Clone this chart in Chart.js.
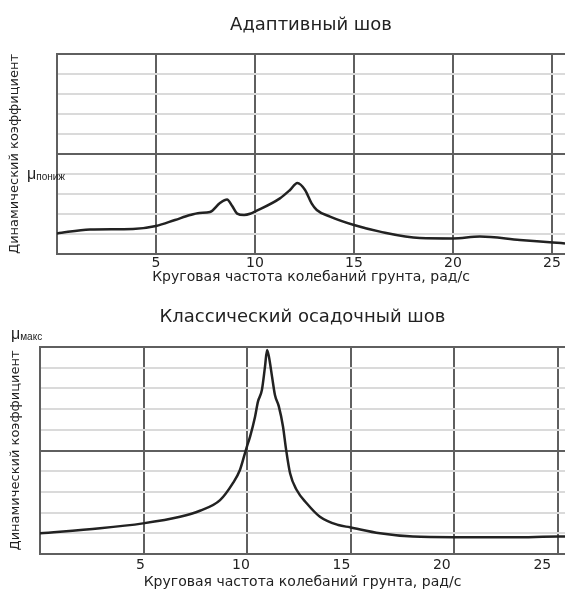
<!DOCTYPE html>
<html lang="ru">
<head>
<meta charset="utf-8">
<title>Динамический коэффициент</title>
<script src="https://cdn.jsdelivr.net/npm/chart.js@4.4.1/dist/chart.umd.min.js"></script>
<style>
  html, body { margin: 0; padding: 0; background: #fff; overflow: hidden; }
  canvas { position: absolute; left: 0; }
  #adaptChart { top: 0; }
  #classChart { top: 290px; }
</style>
</head>
<body>
<canvas id="adaptChart" width="565" height="290"></canvas>
<canvas id="classChart" width="565" height="301"></canvas>
<script>
// Адаптивный шов
const adaptX = [0, 1.67, 3.84, 5, 5.96, 6.72, 7.2, 7.73, 8.23, 8.59, 8.85, 9.1, 9.45, 9.8, 10,
  11.26, 11.77, 12.14, 12.53, 12.86, 13.12, 13.79, 15, 16.31, 18.33, 20, 21.36, 23.38, 25.05, 25.66];
const adaptY = [1.03, 1.23, 1.25, 1.4, 1.7, 1.95, 2.05, 2.1, 2.55, 2.73, 2.4, 2.02, 1.95, 2.03, 2.12,
  2.78, 3.2, 3.55, 3.2, 2.53, 2.2, 1.87, 1.45, 1.12, 0.8, 0.78, 0.87, 0.7, 0.58, 0.53];

// Классический осадочный шов
const classX = [0, 2.9, 4.97, 6.76, 7.72, 8.69, 9.31, 9.65, 9.89, 9.99, 10.14, 10.38, 10.52, 10.71,
  10.86, 10.96, 11.05, 11.2, 11.34, 11.53, 11.73, 11.87, 12.07, 12.39, 12.87, 13.51, 14.4, 14.96,
  16.41, 18.0, 19.98, 22.83, 25, 25.34];
const classY = [1.0, 1.24, 1.48, 1.8, 2.09, 2.6, 3.42, 4.06, 4.86, 5.2, 5.67, 6.63, 7.36, 7.92,
  9.05, 9.86, 9.53, 8.57, 7.68, 7.12, 6.15, 5.1, 3.9, 3.09, 2.45, 1.8, 1.4, 1.29,
  1.0, 0.84, 0.81, 0.81, 0.84, 0.84];

const xTickValues = [5, 10, 15, 20, 25];
const yMax = 10;

const FONT = "'DejaVu Sans', sans-serif";
const INK = "#222";
const DARK = "#5f5f5f";
const LIGHT = "#dadada";

function toPoints(xs, ys) {
  return xs.map((x, i) => ({ x: x, y: ys[i] }));
}

// подпись μ с индексом
function muLabel(sub, x, y) {
  return {
    id: "mu",
    afterDraw(chart) {
      const ctx = chart.ctx;
      ctx.save();
      ctx.fillStyle = INK;
      ctx.textBaseline = "middle";
      ctx.font = "16px 'Liberation Sans', sans-serif";
      ctx.fillText("μ", x, y);
      const w = ctx.measureText("μ").width;
      ctx.font = "10px 'Liberation Sans', sans-serif";
      ctx.fillText(sub, x + w, y + 2);
      ctx.restore();
    },
  };
}

function makeChart(canvasId, cfg) {
  const gridColor = (c) => (c.tick.value % 5 === 0 ? DARK : LIGHT);
  const tickFromArray = (s) => {
    s.ticks = [0, ...xTickValues].map((v) => ({ value: v }));
  };
  const xTitle = {
    display: true,
    text: "Круговая частота колебаний грунта, рад/с",
    color: INK,
    font: { family: FONT, size: 14 },
    padding: { top: 0, bottom: cfg.xTitlePad },
  };
  const xTicks = {
    color: INK,
    font: { family: FONT, size: 14 },
    padding: cfg.tickPad,
    callback: (v) => (v === 0 ? "" : v),
  };

  const scales = {
    x: {
      type: "linear",
      min: 0,
      max: cfg.xMax,
      afterBuildTicks: tickFromArray,
      grid: { color: DARK, lineWidth: 2, drawTicks: false },
      border: { display: true, color: DARK, width: 2 },
      ticks: cfg.labelMax ? { display: false } : xTicks,
      title: cfg.labelMax ? { display: false } : xTitle,
      afterFit: (s) => { s.height = cfg.labelMax ? 0 : cfg.xHeight; },
    },
    y: {
      type: "linear",
      min: 0,
      max: yMax,
      ticks: { display: false, stepSize: 1 },
      grid: { color: gridColor, lineWidth: 2, drawTicks: false },
      border: { display: true, color: DARK, width: 2 },
      title: {
        display: true,
        text: "Динамический коэффициент",
        color: INK,
        font: { family: FONT, size: 13 },
        padding: { top: cfg.yTitlePad, bottom: 0 },
      },
      afterFit: (s) => { s.width = cfg.yWidth; },
    },
  };

  // у нижнего графика подписи делений смещены относительно сетки
  if (cfg.labelMax) {
    scales.xl = {
      type: "linear",
      position: "bottom",
      weight: 1,
      min: 0,
      max: cfg.labelMax,
      afterBuildTicks: tickFromArray,
      grid: { display: false, drawTicks: false },
      border: { display: false },
      ticks: xTicks,
      title: xTitle,
      afterFit: (s) => { s.height = cfg.xHeight; },
    };
  }

  return new Chart(document.getElementById(canvasId), {
    type: "line",
    data: {
      datasets: [
        {
          data: toPoints(cfg.xs, cfg.ys),
          xAxisID: "x",
          yAxisID: "y",
          borderColor: INK,
          borderWidth: 2.5,
          pointRadius: 0,
          cubicInterpolationMode: "monotone",
          fill: false,
        },
      ],
    },
    options: {
      responsive: false,
      animation: false,
      layout: { padding: 0 },
      plugins: {
        legend: { display: false },
        tooltip: { enabled: false },
        title: {
          display: true,
          fullSize: false,
          text: cfg.title,
          color: INK,
          font: { family: FONT, size: 18, weight: "normal" },
          padding: { top: cfg.titleTop, bottom: cfg.titleBottom },
        },
      },
      scales: scales,
    },
    plugins: [muLabel(cfg.mu, cfg.muX, cfg.muY)],
  });
}

makeChart("adaptChart", {
  title: "Адаптивный шов",
  xs: adaptX,
  ys: adaptY,
  xMax: 25.66,
  labelMax: null,
  titleTop: 14.2,
  titleBottom: 18.2,
  yWidth: 57,
  yTitlePad: 7.2,
  xHeight: 36,
  tickPad: 0.6,
  xTitlePad: 4.6,
  mu: "пониж",
  muX: 27,
  muY: 175,
});

makeChart("classChart", {
  title: "Классический осадочный шов",
  xs: classX,
  ys: classY,
  xMax: 25.34,
  labelMax: 26.13,
  titleTop: 16.2,
  titleBottom: 19.2,
  yWidth: 40,
  yTitlePad: 8.2,
  xHeight: 37,
  tickPad: 2.6,
  xTitlePad: 0.6,
  mu: "макс",
  muX: 11,
  muY: 45,
});
</script>
</body>
</html>
